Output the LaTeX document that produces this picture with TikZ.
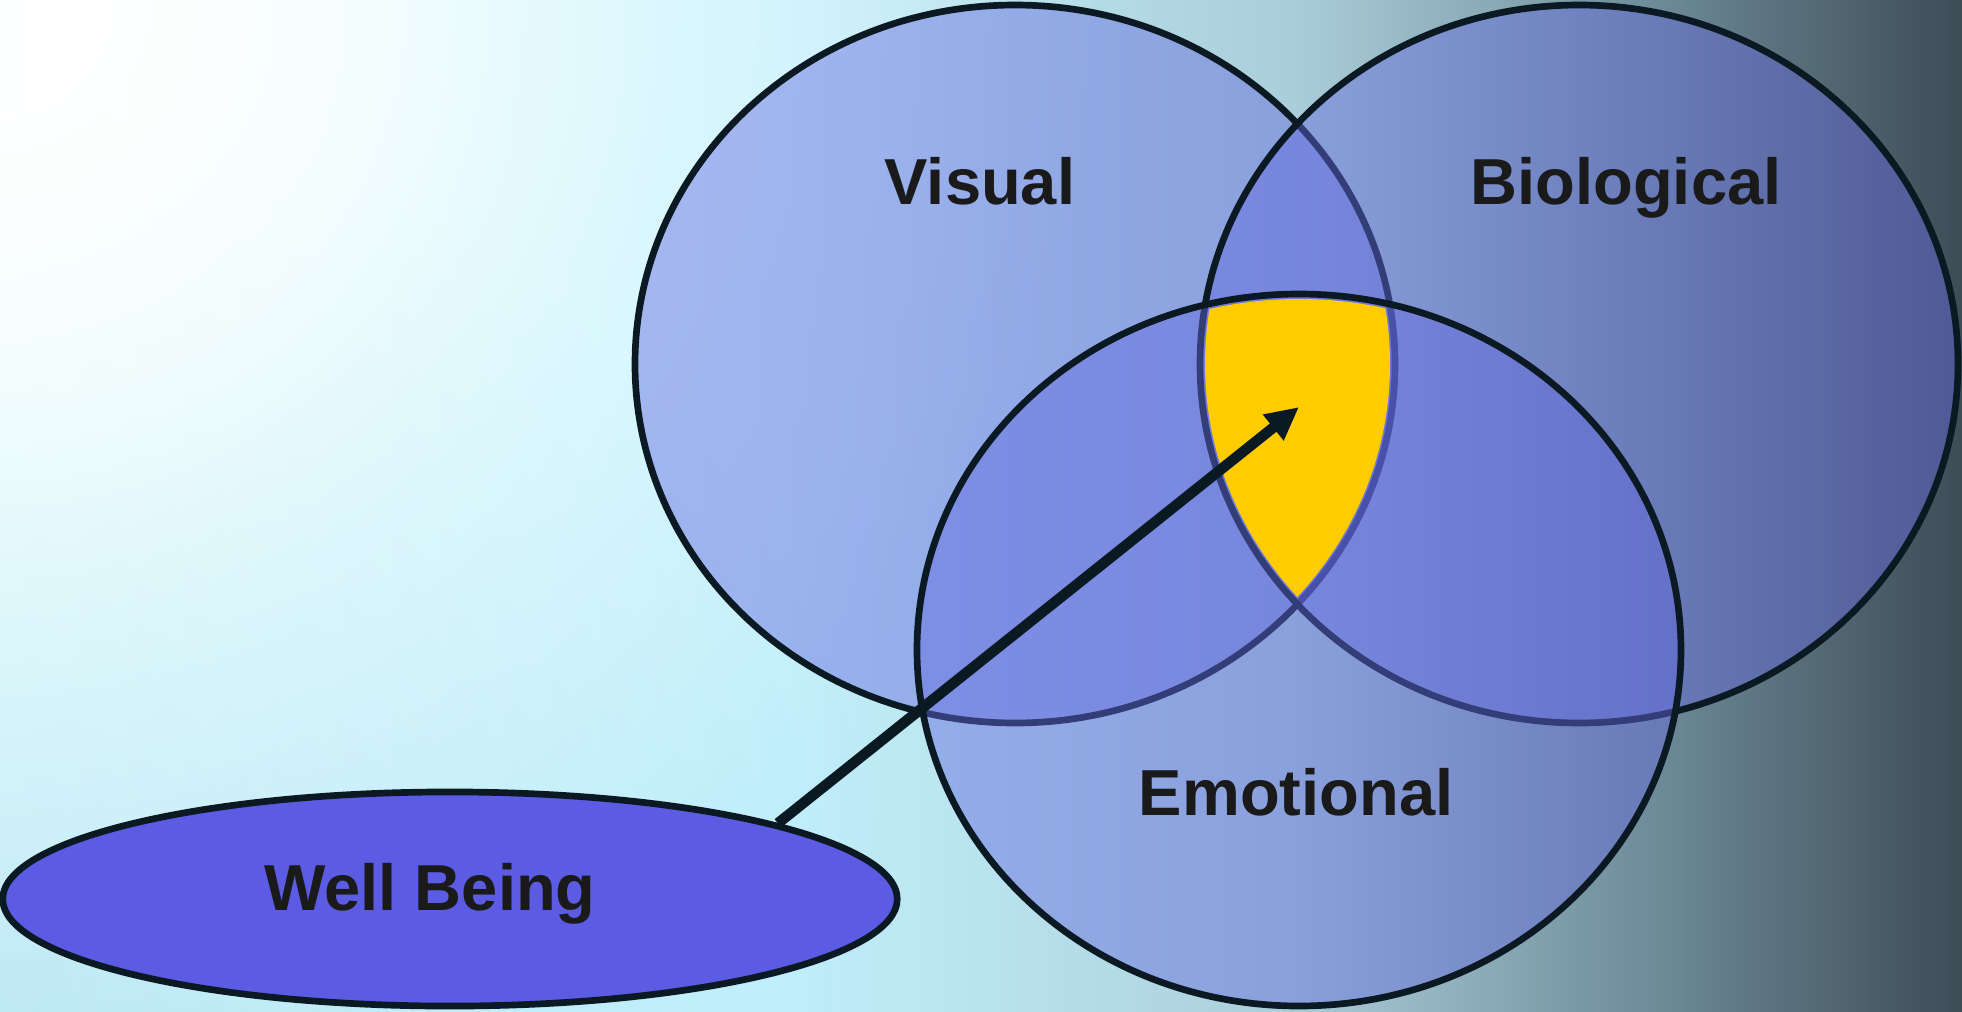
\documentclass[tikz,border=0pt]{standalone}
\usepackage{fontspec}
\setmainfont{Liberation Sans}
\usetikzlibrary{arrows.meta,fadings,shapes.geometric}

\definecolor{bgA}{HTML}{CFFFFF}
\definecolor{bgB}{HTML}{C2F0FC}
\definecolor{bgC}{HTML}{AACED9}
\definecolor{bgD}{HTML}{6E8C99}
\definecolor{bgE}{HTML}{3E4C56}
\definecolor{bgF}{HTML}{A8D4EC}
\definecolor{ringfill}{HTML}{6469E1}
\definecolor{ringline}{HTML}{0B1A22}
\definecolor{wellfill}{HTML}{5B5BE3}
\definecolor{coreyellow}{HTML}{FFCC00}
\definecolor{labeltext}{HTML}{1A1A1A}

\pgfdeclarehorizontalshading{bgshade}{100bp}{color(0bp)=(bgA); color(25bp)=(bgA); color(45bp)=(bgB); color(58bp)=(bgC); color(67bp)=(bgD); color(75bp)=(bgE); color(100bp)=(bgE)}
\tikzfading[name=glowout, inner color=transparent!0, outer color=transparent!100]

\tikzset{
	ring/.style={draw=ringline, line width=1.9pt, fill=ringfill, fill opacity=0.45},
	lbl/.style={font=\bfseries\fontsize{18.5}{18.5}\selectfont, text=labeltext, anchor=base, inner sep=0pt},
}

\begin{document}
\begin{tikzpicture}[x=0.01cm,y=-0.01cm]
		\useasboundingbox (0,0) rectangle (1962,1011);
		% background
		\begin{scope}
		\clip (0,0) rectangle (1962,1011);
		\shade[shading=bgshade] (0,0) rectangle (1962,1011);
		\fill[bgF, fill opacity=0.55, path fading=glowout] (0,1011) circle (900);
		\fill[white, path fading=glowout] (0,0) circle (1100);
		\fill[white, path fading=glowout] (0,0) circle (600);
		\end{scope}
		% the three rings
		\path[ring] (1015,364) ellipse (380 and 359);
		\path[ring] (1579,364) ellipse (379 and 359);
		\path[ring] (1299,650) ellipse (382 and 356);
		% common part
		\begin{scope}
		\clip (1299,650) ellipse (377 and 351);
		\clip (1579,364) ellipse (374 and 354);
		\fill[coreyellow] (1015,364) ellipse (375 and 354);
		\end{scope}
		\node (vis) at (980,204)[lbl]{Visual};
		\node (bio) at (1626,204)[lbl]{Biological};
		\node (emo) at (1296,815)[lbl]{Emotional};
		\node (wb) at (450,899)[ellipse, draw=ringline, line width=1.9pt, fill=wellfill, minimum width=8.94cm, minimum height=2.14cm]{};
		\node (wbtxt) at (430,910)[lbl]{Well Being};
		\coordinate (core) at (1299,407);
		\draw[line width=3pt, ringline, -{Triangle[length=0.33cm, width=0.31cm]}] (wb.13) -- (core);
\end{tikzpicture}
\end{document}
